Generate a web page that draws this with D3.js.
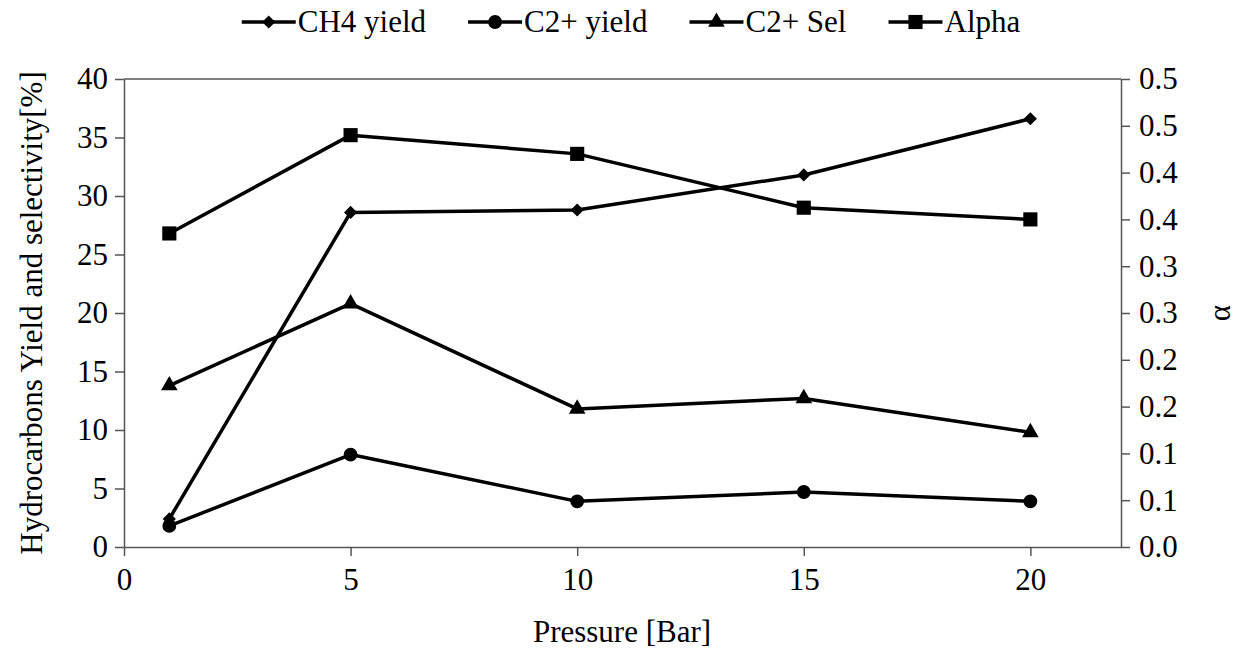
<!DOCTYPE html>
<html>
<head>
<meta charset="utf-8">
<script src="https://cdn.jsdelivr.net/npm/d3@7"></script>
<style>
  body { margin: 0; background: #fff; }
</style>
</head>
<body>
<svg id="chart" width="1238" height="650"></svg>
<script>
const pressure = [1, 5, 10, 15, 20];
const ch4Yield = [2.4, 28.6, 28.8, 31.8, 36.6];
const c2Yield = [1.8, 7.9, 3.9, 4.7, 3.9];
const c2Sel = [13.8, 20.8, 11.8, 12.7, 9.8];
const alpha = [0.335, 0.44, 0.42, 0.3625, 0.35];

const xTicks = [0, 5, 10, 15, 20];
const leftTicks = [0, 5, 10, 15, 20, 25, 30, 35, 40];
const rightTicks = [0, 0.05, 0.1, 0.15, 0.2, 0.25, 0.3, 0.35, 0.4, 0.45, 0.5];
const rightTickLabels = ["0.0", "0.1", "0.1", "0.2", "0.2", "0.3", "0.3", "0.4", "0.4", "0.5", "0.5"];

const FONT = "Liberation Serif, DejaVu Serif, Times New Roman, serif";
const fontSize = 31;

const svg = d3.select("#chart");
const m = { left: 124, right: 1121, top: 79, bottom: 547 };

const x = d3.scaleLinear().domain([0, 22]).range([m.left, m.right]);
const yL = d3.scaleLinear().domain([0, 40]).range([m.bottom, m.top]);
const yR = d3.scaleLinear().domain([0, 0.5]).range([m.bottom, m.top]);

const axisColor = "#555";

// top frame line
svg.append("line")
  .attr("x1", m.left).attr("x2", m.right)
  .attr("y1", m.top).attr("y2", m.top)
  .attr("stroke", axisColor).attr("stroke-width", 1.5);

const styleAxis = (g) => {
  g.attr("font-family", FONT).attr("font-size", fontSize);
  g.select(".domain").attr("stroke", axisColor).attr("stroke-width", 1.5);
  g.selectAll(".tick line").attr("stroke", axisColor).attr("stroke-width", 1.5);
  g.selectAll(".tick text").attr("fill", "#000");
};

svg.append("g")
  .attr("transform", `translate(0,${m.bottom})`)
  .call(d3.axisBottom(x).tickValues(xTicks).tickSize(9).tickSizeOuter(0).tickPadding(12))
  .call(styleAxis);

svg.append("g")
  .attr("transform", `translate(${m.left},0)`)
  .call(d3.axisLeft(yL).tickValues(leftTicks).tickSize(9).tickSizeOuter(0).tickPadding(7))
  .call(styleAxis);

svg.append("g")
  .attr("transform", `translate(${m.right},0)`)
  .call(d3.axisRight(yR).tickValues(rightTicks).tickFormat((d, i) => rightTickLabels[i])
    .tickSize(9).tickSizeOuter(0).tickPadding(9))
  .call(styleAxis);

const addText = (sel) => sel.attr("font-family", FONT).attr("font-size", fontSize).attr("fill", "#000");

// axis titles
svg.append("text")
  .attr("x", 622)
  .attr("y", 642)
  .attr("text-anchor", "middle")
  .call(addText)
  .text("Pressure [Bar]");

svg.append("text")
  .attr("transform", `translate(42,${(m.top + m.bottom) / 2}) rotate(-90)`)
  .attr("text-anchor", "middle")
  .call(addText)
  .text("Hydrocarbons Yield and selectivity[%]");

svg.append("text")
  .attr("transform", `translate(1230,${(m.top + m.bottom) / 2}) rotate(-90)`)
  .attr("text-anchor", "middle")
  .call(addText)
  .text("α");

// marker shapes
const symbols = {
  diamond: d3.symbol().type(d3.symbolDiamond2).size(110),
  circle: d3.symbol().type(d3.symbolCircle).size(150),
  triangle: d3.symbol().type(d3.symbolTriangle).size(120),
  square: d3.symbol().type(d3.symbolSquare).size(200)
};

const series = [
  { name: "CH4 yield", values: ch4Yield, y: yL, sym: "diamond" },
  { name: "C2+ yield", values: c2Yield, y: yL, sym: "circle" },
  { name: "C2+ Sel", values: c2Sel, y: yL, sym: "triangle" },
  { name: "Alpha", values: alpha, y: yR, sym: "square" }
];

series.forEach((s) => {
  const pts = pressure.map((p, i) => [x(p), s.y(s.values[i])]);
  svg.append("path")
    .attr("d", d3.line()(pts))
    .attr("fill", "none")
    .attr("stroke", "#000")
    .attr("stroke-width", 3.5)
    .attr("stroke-linejoin", "round");
  svg.append("g").selectAll("path")
    .data(pts)
    .enter()
    .append("path")
    .attr("transform", (d) => `translate(${d[0]},${d[1]})`)
    .attr("d", symbols[s.sym]())
    .attr("fill", "#000");
});

// legend, centred over the chart
const legend = svg.append("g");
const lineLen = 54, gap = 42;
let lx = 0;
series.forEach((s) => {
  const item = legend.append("g").attr("transform", `translate(${lx},0)`);
  item.append("line")
    .attr("x1", 0).attr("x2", lineLen).attr("y1", 0).attr("y2", 0)
    .attr("stroke", "#000").attr("stroke-width", 3.5);
  item.append("path")
    .attr("transform", `translate(${lineLen / 2},0)`)
    .attr("d", symbols[s.sym]())
    .attr("fill", "#000");
  const t = item.append("text")
    .attr("x", lineLen + 2).attr("y", 10)
    .call(addText)
    .text(s.name);
  lx += lineLen + 2 + t.node().getComputedTextLength() + gap;
});
const legendW = lx - gap;
legend.attr("transform", `translate(${631 - legendW / 2},22)`);
</script>
</body>
</html>
